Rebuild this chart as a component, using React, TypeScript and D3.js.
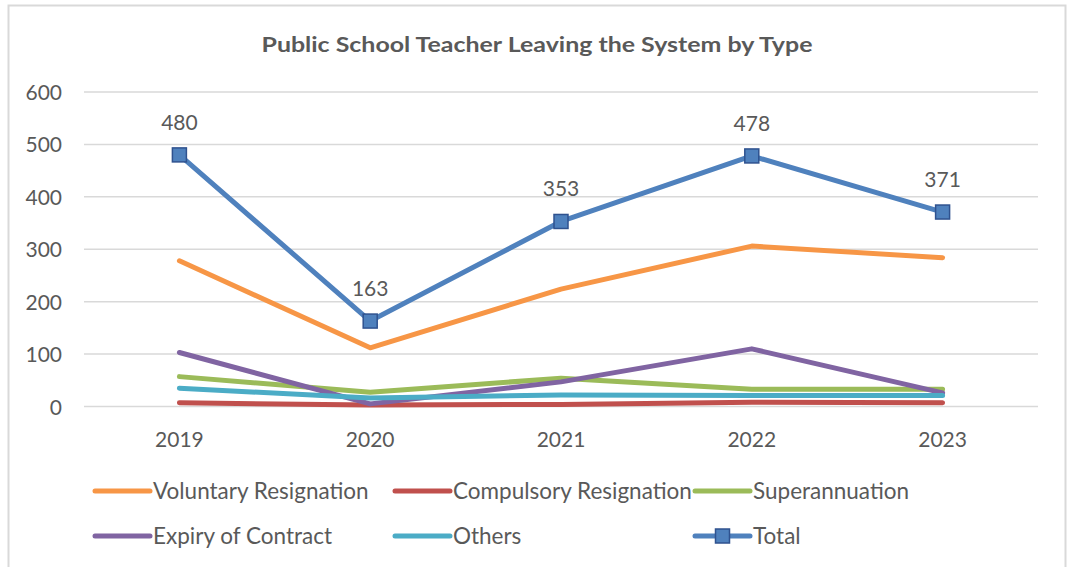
import React from "react";
import * as d3 from "d3";

const years = ["2019", "2020", "2021", "2022", "2023"];
const voluntary = [278, 112, 224, 306, 284];
const compulsory = [7, 3, 4, 8, 7];
const superannuation = [57, 27, 54, 33, 33];
const expiry = [103, 5, 47, 110, 26];
const others = [35, 16, 22, 21, 21];
const total = [480, 163, 353, 478, 371];
const yTicks = [0, 100, 200, 300, 400, 500, 600];

const seriesList = [
  { name: "Voluntary Resignation", values: voluntary, color: "#F79646" },
  { name: "Compulsory Resignation", values: compulsory, color: "#C0504D" },
  { name: "Superannuation", values: superannuation, color: "#9BBB59" },
  { name: "Expiry of Contract", values: expiry, color: "#8064A2" },
  { name: "Others", values: others, color: "#4BACC6" },
];
const totalColor = "#4F81BD";

const W = 1068;
const H = 567;
const FONT = "Lato, 'Open Sans', sans-serif";
const TXT = "#595959";

export default function App() {
  const x = d3.scaleBand<string>().domain(years).range([84, 1038]);
  const cx = (i: number) => (x(years[i]) as number) + x.bandwidth() / 2;
  const y = d3.scaleLinear().domain([0, 600]).range([406.5, 92]);
  const line = d3
    .line<number>()
    .x((_, i) => cx(i))
    .y((v) => y(v));

  const legend = [
    ...seriesList.slice(0, 3).map((s, k) => ({ ...s, lx: 95 + k * 300, ly: 491, marker: false })),
    { ...seriesList[3], lx: 95, ly: 536, marker: false },
    { ...seriesList[4], lx: 395, ly: 536, marker: false },
    { name: "Total", values: total, color: totalColor, lx: 695, ly: 536, marker: true },
  ];

  return (
    <svg
      width={W}
      height={H}
      style={{ position: "absolute", left: 0, top: 0, background: "#fff" }}
      fontFamily={FONT}
    >
      <rect x={8.5} y={5.5} width={1057} height={580} fill="#fff" stroke="#d9d9d9" strokeWidth={2} />
      <text
        x={537}
        y={52}
        textAnchor="middle"
        fontSize={21}
        fontWeight="bold"
        fill={TXT}
        textLength={551}
        lengthAdjust="spacingAndGlyphs"
      >
        Public School Teacher Leaving the System by Type
      </text>
      {yTicks.map((t) => (
        <g key={t}>
          <line x1={84} x2={1038} y1={y(t)} y2={y(t)} stroke="#d9d9d9" strokeWidth={1.5} />
          <text x={62} y={y(t) + 8} textAnchor="end" fontSize={21} fill={TXT}>
            {t}
          </text>
        </g>
      ))}
      {years.map((yr, i) => (
        <text key={yr} x={cx(i)} y={447} textAnchor="middle" fontSize={21} fill={TXT}>
          {yr}
        </text>
      ))}
      {seriesList.map((s) => (
        <path
          key={s.name}
          d={line(s.values) as string}
          fill="none"
          stroke={s.color}
          strokeWidth={5}
          strokeLinejoin="round"
          strokeLinecap="round"
        />
      ))}
      <path
        d={line(total) as string}
        fill="none"
        stroke={totalColor}
        strokeWidth={5}
        strokeLinejoin="round"
        strokeLinecap="round"
      />
      {total.map((v, i) => (
        <g key={i}>
          <rect
            x={cx(i) - 7}
            y={y(v) - 7}
            width={14}
            height={14}
            fill={totalColor}
            stroke="#2F528F"
            strokeWidth={1.5}
          />
          <text x={cx(i)} y={y(v) - 25} textAnchor="middle" fontSize={21} fill={TXT}>
            {v}
          </text>
        </g>
      ))}
      {legend.map((l) => (
        <g key={l.name}>
          <line
            x1={l.lx}
            x2={l.lx + 55}
            y1={l.ly}
            y2={l.ly}
            stroke={l.color}
            strokeWidth={5}
            strokeLinecap="round"
          />
          {l.marker && (
            <rect
              x={l.lx + 27.5 - 7}
              y={l.ly - 7}
              width={14}
              height={14}
              fill={l.color}
              stroke="#2F528F"
              strokeWidth={1.5}
            />
          )}
          <text x={l.lx + 58} y={l.ly + 8} fontSize={22.5} fill={TXT}>
            {l.name}
          </text>
        </g>
      ))}
    </svg>
  );
}
